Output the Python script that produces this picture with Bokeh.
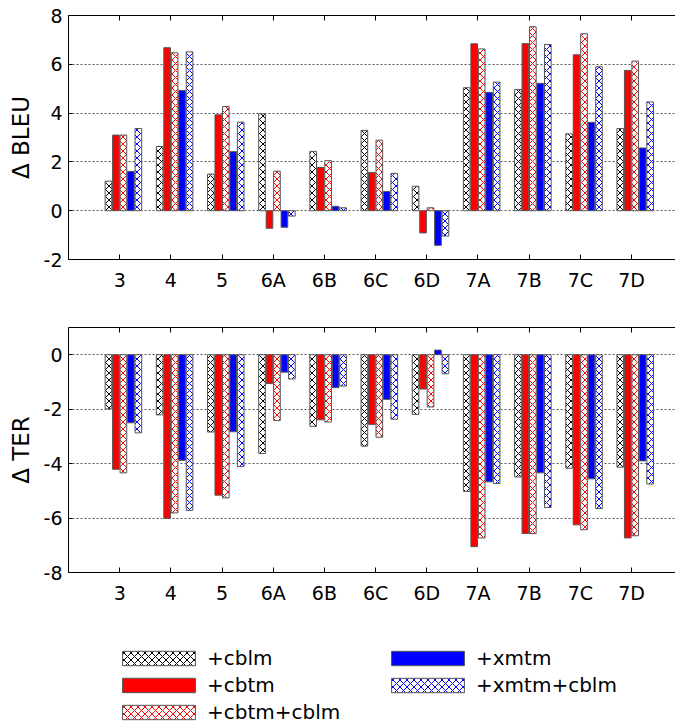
from bokeh.plotting import figure
from bokeh.models import Range1d, FixedTicker, LinearAxis, Legend, LegendItem, ColumnDataSource
from bokeh.layouts import column
from bokeh.embed import file_html
from bokeh.resources import INLINE
from bokeh.transform import dodge

# ---------------- data ----------------
categories = ["3", "4", "5", "6A", "6B", "6C", "6D", "7A", "7B", "7C", "7D"]
series_names = ["+cblm", "+cbtm", "+cbtm+cblm", "+xmtm", "+xmtm+cblm"]

bleu_cblm      = [1.21, 2.63, 1.50, 3.97, 2.43, 3.29, 1.00, 5.04, 4.97, 3.15, 3.37]
bleu_cbtm      = [3.10, 6.68, 3.93, -0.72, 1.77, 1.57, -0.91, 6.84, 6.85, 6.39, 5.75]
bleu_cbtm_cblm = [3.10, 6.47, 4.27, 1.62, 2.05, 2.89, 0.12, 6.63, 7.54, 7.25, 6.13]
bleu_xmtm      = [1.61, 4.93, 2.42, -0.68, 0.18, 0.79, -1.42, 4.85, 5.22, 3.62, 2.57]
bleu_xmtm_cblm = [3.37, 6.51, 3.63, -0.22, 0.12, 1.53, -1.04, 5.27, 6.81, 5.90, 4.46]

ter_cblm      = [-1.99, -2.21, -2.84, -3.63, -2.63, -3.36, -2.19, -5.02, -4.49, -4.17, -4.13]
ter_cbtm      = [-4.21, -6.01, -5.16, -1.06, -2.39, -2.56, -1.26, -7.05, -6.57, -6.25, -6.73]
ter_cbtm_cblm = [-4.34, -5.81, -5.26, -2.42, -2.47, -3.03, -1.92, -6.73, -6.57, -6.43, -6.65]
ter_xmtm      = [-2.50, -3.88, -2.83, -0.64, -1.21, -1.64, 0.17, -4.67, -4.34, -4.56, -3.90]
ter_xmtm_cblm = [-2.87, -5.72, -4.11, -0.89, -1.15, -2.37, -0.70, -4.73, -5.61, -5.65, -4.75]

bleu_ticks = [-2, 0, 2, 4, 6, 8]
ter_ticks = [-8, -6, -4, -2, 0]

# ---------------- style ----------------
FONT = "DejaVu Sans"
styles = [
    dict(fill_color="white", hatch_pattern="x", hatch_color="black"),
    dict(fill_color="#ff0000"),
    dict(fill_color="white", hatch_pattern="x", hatch_color="#ff0000"),
    dict(fill_color="#0000ff"),
    dict(fill_color="white", hatch_pattern="x", hatch_color="#0000ff"),
]
BAR_LINE = dict(line_color="#555555", line_width=1, hatch_scale=7, hatch_weight=1)
STEP = 0.146
BAR_W = 0.13
positions = list(range(1, len(categories) + 1))


def make_fig(series, ylabel, yrange, yticks, b_top, b_bottom):
    p = figure(width=675, frame_width=607, frame_height=yrange[2],
               min_border_left=68, min_border_right=0,
               min_border_top=b_top, min_border_bottom=b_bottom,
               x_range=Range1d(0, 11.86), y_range=Range1d(yrange[0], yrange[1]),
               output_backend="svg", toolbar_location=None,
               x_axis_location=None, y_axis_location=None)
    p.outline_line_color = None
    p.xgrid.visible = False

    data = dict(x=positions)
    for k, s in enumerate(series):
        data[f"s{k}"] = s
    src = ColumnDataSource(data)

    for k in range(len(series)):
        off = (k - 1.5) * STEP
        p.vbar(x=dodge("x", off, range=p.x_range), top=f"s{k}", bottom=0,
               width=BAR_W, source=src, **BAR_LINE, **styles[k])

    xt = FixedTicker(ticks=positions)
    xb = LinearAxis(ticker=xt, major_label_overrides={i: c for i, c in zip(positions, categories)},
                    major_tick_in=5, major_tick_out=0, minor_tick_line_color=None,
                    major_label_standoff=9, major_label_text_font=FONT,
                    major_label_text_font_size="19px", major_label_text_color="black",
                    axis_line_color="black", major_tick_line_color="black")
    p.add_layout(xb, "below")
    xa = LinearAxis(ticker=xt, major_tick_in=5, major_tick_out=0, minor_tick_line_color=None,
                    major_label_text_font_size="1px", major_label_text_color=None,
                    major_label_standoff=0,
                    axis_line_color="black", major_tick_line_color="black")
    p.add_layout(xa, "above")

    yt = FixedTicker(ticks=yticks)
    ya = LinearAxis(ticker=yt, major_label_overrides={t: str(t) for t in yticks},
                    major_tick_in=4, major_tick_out=0, minor_tick_line_color=None,
                    major_label_standoff=6, major_label_text_font=FONT,
                    major_label_text_font_size="19px", major_label_text_color="black",
                    axis_label=ylabel, axis_label_text_font=FONT,
                    axis_label_text_font_size="23px", axis_label_text_font_style="normal",
                    axis_label_standoff=7, axis_label_text_color="black",
                    axis_line_color="black", major_tick_line_color="black")
    p.add_layout(ya, "left")
    p.ygrid.ticker = yt
    p.ygrid.grid_line_color = "#555555"
    p.ygrid.grid_line_dash = "2 2"
    p.ygrid.grid_line_width = 1
    return p, src


bleu_series = [bleu_cblm, bleu_cbtm, bleu_cbtm_cblm, bleu_xmtm, bleu_xmtm_cblm]
ter_series = [ter_cblm, ter_cbtm, ter_cbtm_cblm, ter_xmtm, ter_xmtm_cblm]
p1, _ = make_fig(bleu_series, "\u0394 BLEU", (-2, 8, 244), bleu_ticks, 15, 40)
p2, ter_src = make_fig(ter_series, "\u0394 TER", (-8, 1, 245), ter_ticks, 28, 40)

# ---------------- legend panel (series drawn off-range; only the legend shows) ----------------
p3 = figure(width=675, height=112, min_border=0,
            x_range=Range1d(-100, -99), y_range=Range1d(-100, -99),
            output_backend="svg", toolbar_location=None,
            x_axis_location=None, y_axis_location=None)
p3.outline_line_color = None
p3.grid.visible = False
items = []
for k, (name, st) in enumerate(zip(series_names, styles)):
    r = p3.vbar(x="x", top=f"s{k}", width=BAR_W, source=ter_src, **BAR_LINE, **st)
    items.append(LegendItem(label=name, renderers=[r]))
lg = Legend(items=items, location=(45, -1), orientation="vertical", nrows=3,
            glyph_width=91, glyph_height=18, label_standoff=3, label_width=175,
            label_height=27, spacing=0, padding=0, margin=0,
            border_line_color=None, background_fill_alpha=0,
            label_text_font=FONT, label_text_font_size="20px",
            label_text_color="black")
p3.add_layout(lg)

layout = column(p1, p2, p3, spacing=0)
open("out.html", "w").write(file_html(layout, INLINE))
